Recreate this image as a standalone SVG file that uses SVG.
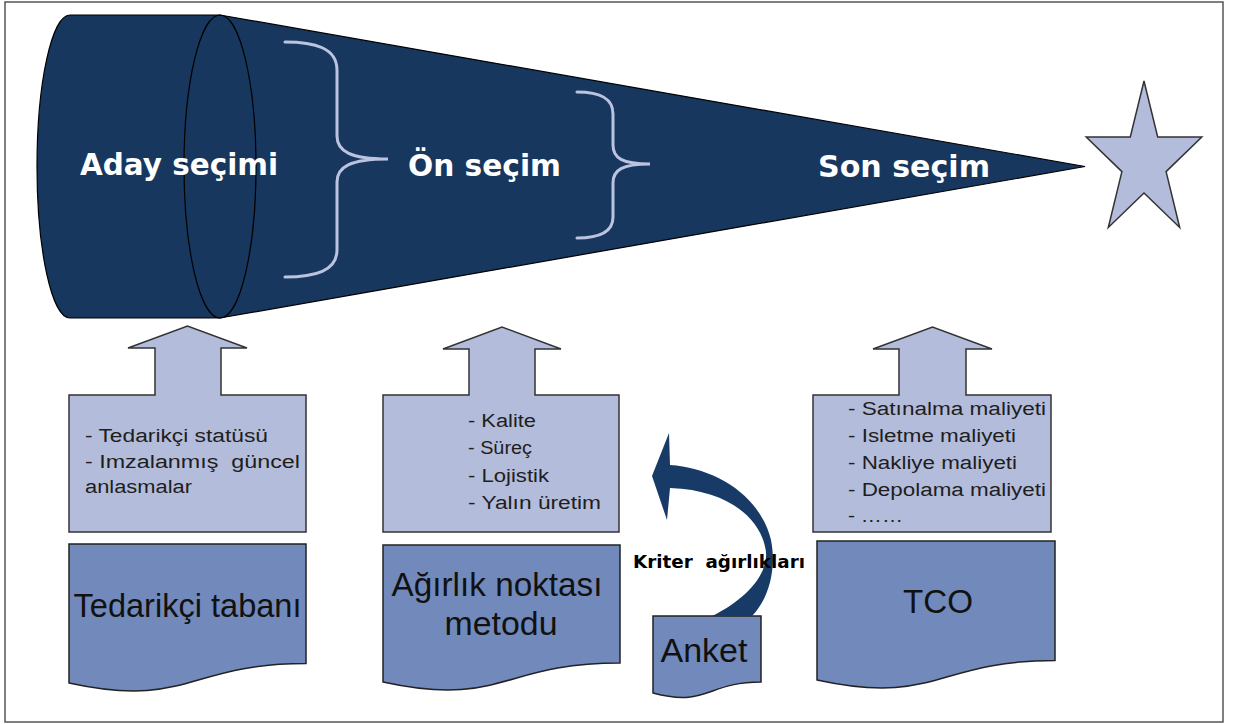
<svg xmlns="http://www.w3.org/2000/svg" width="1234" height="724" viewBox="0 0 1234 724">
  <defs>
    <style>
      .frame { fill: #ffffff; stroke: #555555; stroke-width: 1.5; }
      .funnel { fill: #17375e; stroke: #000000; stroke-width: 1.2; }
      .brace { fill: none; stroke: #bcc3df; stroke-width: 3; stroke-linecap: round; }
      .stage { font-family: "DejaVu Sans", Verdana, sans-serif; font-weight: bold; font-size: 30px; fill: #ffffff; }
      .callout { fill: #b3bcda; stroke: #333333; stroke-width: 1.5; stroke-linejoin: miter; }
      .doc { fill: #7189bb; stroke: #222222; stroke-width: 1.5; }
      .item { font-family: "Liberation Sans", Arial, sans-serif; font-size: 18px; fill: #1e1e1e; }
      .big { font-family: "Liberation Sans", Arial, sans-serif; font-size: 33px; fill: #111111; text-anchor: middle; }
      .star { fill: #b3bcda; stroke: #333333; stroke-width: 1.5; stroke-linejoin: miter; }
      .curved { fill: #173a66; stroke: none; }
      .label { font-family: "DejaVu Sans", Verdana, sans-serif; font-weight: bold; font-size: 17px; fill: #000000; }
    </style>
  </defs>

  <rect class="frame" x="5" y="2" width="1218" height="720"/>

  <!-- selection funnel: cylinder end, cone and the two braces -->
  <g id="funnel">
    <path class="funnel" d="M70,15 L220,15 L1085,166.5 L220,318 L70,318 A33,151.5 0 0 1 70,15 Z"/>
    <ellipse cx="220" cy="166.5" rx="36" ry="151.5" fill="none" stroke="#000000" stroke-width="1.2"/>
    <path class="brace" d="M285,42 C315,42 337,48 337,70 L337,136 C337,151 350,159 388,159 C350,159 337,167 337,182 L337,250 C337,271 315,277 285,277"/>
    <path class="brace" d="M577,92 C600,92 613,98 613,114 L613,145 C613,158 622,164 650,164 C622,164 613,170 613,183 L613,217 C613,232 600,238 577,238"/>
    <text class="stage" x="80" y="175" textLength="198" lengthAdjust="spacingAndGlyphs">Aday seçimi</text>
    <text class="stage" x="408" y="176" textLength="153" lengthAdjust="spacingAndGlyphs">Ön seçim</text>
    <text class="stage" x="818" y="177" textLength="172" lengthAdjust="spacingAndGlyphs">Son seçim</text>
  </g>

  <g id="star">
    <polygon class="star" points="1144,81 1157.7,136.9 1201.8,137 1166.1,171.6 1179.7,227.5 1144,193 1108.3,227.5 1121.9,171.6 1086.2,137 1130.3,136.9"/>
  </g>

  <!-- criteria callouts with upward arrows -->
  <g id="callout-supplier">
    <path class="callout" d="M69,395 L155,395 L155,348 L128,348 L187.5,326 L247,348 L221,348 L221,395 L306,395 L306,532 L69,532 Z"/>
    <text class="item" x="85" y="442" textLength="183" lengthAdjust="spacingAndGlyphs">- Tedarikçi statüsü</text>
    <text class="item" x="85" y="468" textLength="215" lengthAdjust="spacingAndGlyphs" xml:space="preserve">- Imzalanmış  güncel</text>
    <text class="item" x="85" y="493" textLength="107" lengthAdjust="spacingAndGlyphs">anlasmalar</text>
  </g>

  <g id="callout-criteria">
    <path class="callout" d="M383,395 L469,395 L469,349 L443,349 L502,327 L561,349 L535,349 L535,395 L619,395 L619,532 L383,532 Z"/>
    <text class="item" x="468" y="427" textLength="68" lengthAdjust="spacingAndGlyphs">- Kalite</text>
    <text class="item" x="468" y="454" textLength="64" lengthAdjust="spacingAndGlyphs">- Süreç</text>
    <text class="item" x="468" y="482" textLength="81" lengthAdjust="spacingAndGlyphs">- Lojistik</text>
    <text class="item" x="468" y="509" textLength="133" lengthAdjust="spacingAndGlyphs">- Yalın üretim</text>
  </g>

  <g id="callout-costs">
    <path class="callout" d="M813,395 L899,395 L899,349 L873,349 L932.5,327 L992,349 L966,349 L966,395 L1051,395 L1051,532 L813,532 Z"/>
    <text class="item" x="848" y="415" textLength="198" lengthAdjust="spacingAndGlyphs">- Satınalma maliyeti</text>
    <text class="item" x="848" y="442" textLength="168" lengthAdjust="spacingAndGlyphs">- Isletme maliyeti</text>
    <text class="item" x="848" y="469" textLength="169" lengthAdjust="spacingAndGlyphs">- Nakliye maliyeti</text>
    <text class="item" x="848" y="496" textLength="198" lengthAdjust="spacingAndGlyphs">- Depolama maliyeti</text>
    <text class="item" x="848" y="522" textLength="55" lengthAdjust="spacingAndGlyphs">- ……</text>
  </g>

  <!-- document-shaped method boxes -->
  <g id="doc-supplier-base">
    <path class="doc" d="M69,544 L306,544 L306,663.5 C187.5,663.5 187.5,709 69,683 Z"/>
    <text class="big" x="187.5" y="617" textLength="228" lengthAdjust="spacingAndGlyphs">Tedarikçi tabanı</text>
  </g>

  <g id="doc-weighting">
    <path class="doc" d="M383,545 L620,545 L620,663 C501.5,663 501.5,708 383,682 Z"/>
    <text class="big" x="497" y="596" textLength="211" lengthAdjust="spacingAndGlyphs">Ağırlık noktası</text>
    <text class="big" x="501" y="635" textLength="113" lengthAdjust="spacingAndGlyphs">metodu</text>
  </g>

  <g id="doc-survey">
    <path class="doc" d="M653,616 L761,616 L761,682 C707,682 707,707.5 653,693 Z"/>
    <text class="big" x="704" y="662" textLength="87" lengthAdjust="spacingAndGlyphs">Anket</text>
  </g>

  <g id="doc-tco">
    <path class="doc" d="M817,541 L1055,541 L1055,660.5 C936,660.5 936,706 817,680 Z"/>
    <text class="big" x="938" y="613" textLength="70" lengthAdjust="spacingAndGlyphs">TCO</text>
  </g>

  <!-- curved arrow from the survey to the criteria -->
  <g id="connectors">
    <path class="curved" d="M652,476 L669,433 L670,465 C715,468 760,495 771,540 C777,570 768,600 752,616 L712,616 C745,600 768,575 766,552 C762,520 730,490 670,488 L667,520 Z"/>
    <text class="label" x="633" y="568" textLength="172" lengthAdjust="spacingAndGlyphs" xml:space="preserve">Kriter  ağırlıkları</text>
  </g>
</svg>
